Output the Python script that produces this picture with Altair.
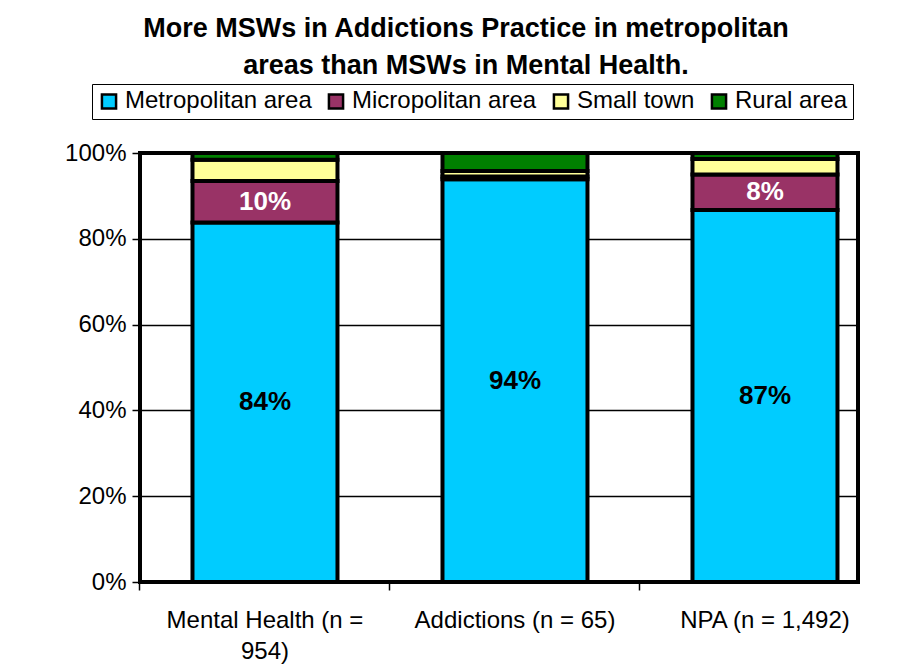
import altair as alt
import pandas as pd

categories = ["Mental Health (n = 954)", "Addictions (n = 65)", "NPA (n = 1,492)"]
regions = ["Metropolitan area", "Micropolitan area", "Small town", "Rural area"]
colors = ["#00CCFF", "#993366", "#FFFF99", "#008000"]
metro = [83.8, 93.9, 86.7]
micro = [9.7, 0.6, 8.3]
small = [4.9, 1.3, 3.6]
rural = [1.6, 4.2, 1.4]
y_ticks = [0, 20, 40, 60, 80, 100]
title_lines = ["More MSWs in Addictions Practice in metropolitan",
               "areas than MSWs in Mental Health."]

rows = []
for i, c in enumerate(categories):
    for j, (r, vals) in enumerate(zip(regions, [metro, micro, small, rural])):
        rows.append({"cat": c, "region": r, "order": j, "pct": vals[i]})
df = pd.DataFrame(rows)

FONT = "Liberation Sans"

x_scale = alt.Scale(domain=categories, paddingInner=0.42, paddingOuter=0.146, align=0.719)
y_scale = alt.Scale(domain=[0, 100], nice=False)

base = alt.Chart(df).transform_stack(
    stack="pct", groupby=["cat"], sort=[alt.SortField("order", "ascending")], as_=["y0", "y1"]
).transform_calculate(mid="(datum.y0 + datum.y1) / 2")

label_expr = ("datum.label == 'Mental Health (n = 954)' ? "
              "['Mental Health (n =', '954)'] : datum.label")

bars = base.mark_bar(stroke="black", strokeWidth=4).encode(
    x=alt.X("cat:N", scale=x_scale, sort=categories,
            axis=alt.Axis(title=None, ticks=False, domain=False, labelAngle=0,
                          labelFont=FONT, labelFontSize=24, labelLineHeight=31,
                          labelPadding=26, labelColor="black", labelExpr=label_expr,
                          labelBaseline="top", labelLimit=400, orient="bottom")),
    y=alt.Y("y0:Q", scale=y_scale,
            axis=alt.Axis(title=None, values=y_ticks, labelExpr="datum.value + '%'",
                          grid=True, gridColor="black", gridWidth=1.5, domain=False,
                          tickColor="black", tickSize=8, tickWidth=1.5,
                          labelFont=FONT, labelFontSize=24, labelColor="black",
                          labelPadding=6)),
    y2="y1:Q",
    fill=alt.Fill("region:N", scale=alt.Scale(domain=regions, range=colors),
                  sort=regions,
                  legend=alt.Legend(title=None, orient="none", legendX=-48, legendY=-69,
                                    direction="horizontal", columns=4,
                                    strokeColor="black", fillColor="white", padding=5,
                                    symbolType="square", symbolSize=200,
                                    symbolStrokeColor="black", symbolStrokeWidth=2.5,
                                    labelFont=FONT, labelFontSize=24, labelColor="black",
                                    labelLimit=400, columnPadding=11, labelOffset=4)),
)

labels = base.transform_filter("(datum.order <= 1) && (datum.pct >= 5)").transform_calculate(
    lbl="format(round(datum.pct), 'd') + '%'"
).mark_text(font=FONT, fontSize=26, fontWeight="bold").encode(
    x=alt.X("cat:N", scale=x_scale, sort=categories,
            axis=alt.Axis(title=None, bandPosition=-0.362, labels=False, ticks=True,
                          tickSize=8, tickColor="black", tickWidth=1.5, domain=False,
                          grid=False, orient="bottom")),
    y=alt.Y("mid:Q", scale=y_scale),
    text="lbl:N",
    color=alt.condition("datum.order == 0", alt.value("black"), alt.value("white")),
)

chart = alt.layer(bars, labels).resolve_axis(x="independent").properties(
    width=718, height=429,
    autosize=alt.AutoSizeParams(type="none"),
    padding={"left": 132, "top": 145, "right": 33, "bottom": 84},
    background="white",
    title=alt.TitleParams(text=title_lines, font=FONT, fontSize=27, fontWeight="bold",
                          lineHeight=37, anchor="middle", dx=-33, color="black"),
).configure_view(stroke="black", strokeWidth=4)

chart.save("out.html", embed_options={"renderer": "svg", "actions": False})
